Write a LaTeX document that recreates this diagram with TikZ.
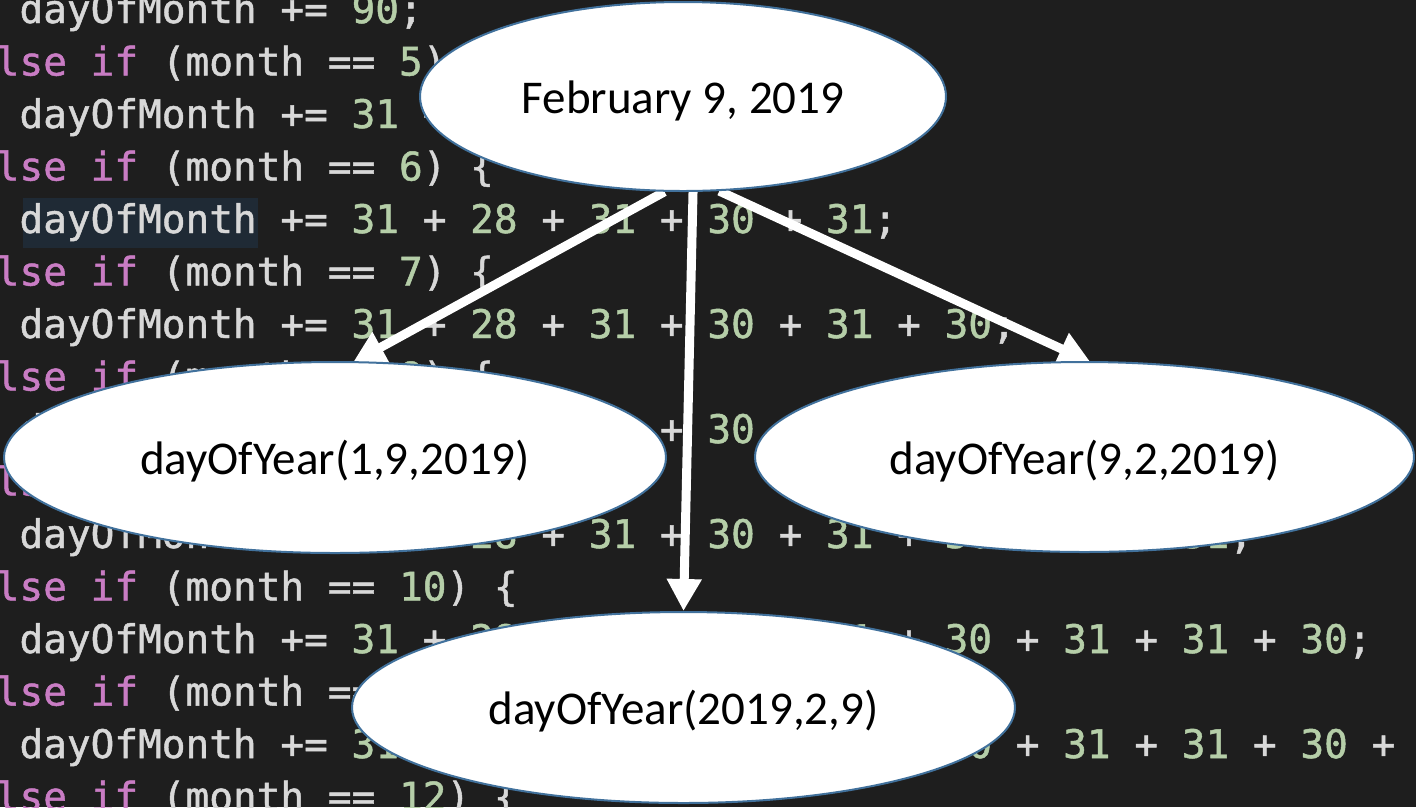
\documentclass[tikz,border=0pt]{standalone}
\usepackage{fontspec}
\newfontfamily\codefont{DejaVu Sans Mono}[FakeBold=1.2]
\newfontfamily\calib{Carlito}
\usetikzlibrary{arrows.meta,shapes.geometric}
\definecolor{bgc}{HTML}{1E1E1E}
\definecolor{codefg}{HTML}{D8D8D8}
\definecolor{kwc}{HTML}{C97CC4}
\definecolor{numc}{HTML}{B5CEA8}
\definecolor{hlc}{HTML}{1F2A35}
\definecolor{edgec}{HTML}{41719C}
\newcommand{\K}[1]{\textcolor{kwc}{#1}}
\newcommand{\N}[1]{\textcolor{numc}{#1}}
\newcommand{\lowered}[1]{\raisebox{-4pt}[\height][\depth]{#1}}
\pgfdeclarelayer{codebg}
\pgfdeclarelayer{arrowlayer}
\pgfsetlayers{codebg,arrowlayer,main}
\tikzset{
  codeline/.style={anchor=base west, inner sep=0pt, outer sep=0pt, text=codefg,
    font=\codefont\fontsize{39.4}{47}\selectfont},
  bubble/.style={ellipse, draw=edgec, line width=2pt, fill=white, inner sep=0pt,
    text=black, font=\calib\fontsize{47}{56}\selectfont},
  flow/.style={draw=white, line width=9pt, -{Triangle[length=32pt,width=33pt]}},
}
\begin{document}
\begin{tikzpicture}[x=1pt,y=-1pt]
\useasboundingbox (0,0) rectangle (1416,807);
\begin{pgfonlayer}{codebg}
\fill[bgc] (0,0) rectangle (1416,807);
\fill[hlc] (22.5,198) rectangle (258,248);
\node[codeline] (c0) at (19.5,23) {dayOfMonth += \N{90};};
\node[codeline] (c1) at (-4.2,75.5) {\K{lse if} (month == \N{5}) \{};
\node[codeline] (c2) at (19.5,128) {dayOfMonth += \N{31} + \N{28} + \N{31} + \N{30};};
\node[codeline] (c3) at (-4.2,180.5) {\K{lse if} (month == \N{6}) \{};
\node[codeline] (c4) at (19.5,233) {dayOfMonth += \N{31} + \N{28} + \N{31} + \N{30} + \N{31};};
\node[codeline] (c5) at (-4.2,285.5) {\K{lse if} (month == \N{7}) \{};
\node[codeline] (c6) at (19.5,338) {dayOfMonth += \N{31} + \N{28} + \N{31} + \N{30} + \N{31} + \N{30};};
\node[codeline] (c7) at (-4.2,390.5) {\K{lse if} (month == \N{8}) \{};
\node[codeline] (c8) at (19.5,443) {dayOfMonth += \N{31} + \N{28} + \N{31} + \N{30} + \N{31} + \N{30} + \N{31};};
\node[codeline] (c9) at (-4.2,495.5) {\K{lse if} (month == \N{9}) \{};
\node[codeline] (c10) at (19.5,548) {dayOfMonth += \N{31} + \N{28} + \N{31} + \N{30} + \N{31} + \N{30} + \N{31} + \N{31};};
\node[codeline] (c11) at (-4.2,600.5) {\K{lse if} (month == \N{10}) \{};
\node[codeline] (c12) at (19.5,653) {dayOfMonth += \N{31} + \N{28} + \N{31} + \N{30} + \N{31} + \N{30} + \N{31} + \N{31} + \N{30};};
\node[codeline] (c13) at (-4.2,705.5) {\K{lse if} (month == \N{11}) \{};
\node[codeline] (c14) at (19.5,758) {dayOfMonth += \N{31} + \N{28} + \N{31} + \N{30} + \N{31} + \N{30} + \N{31} + \N{31} + \N{30} + \N{31};};
\node[codeline] (c15) at (-4.2,810.5) {\K{lse if} (month == \N{12}) \{};
\end{pgfonlayer}
\node[bubble, minimum width=526pt, minimum height=189pt] (e1) at (683,96.5) {\lowered{February 9, 2019}};
\node[bubble, minimum width=662pt, minimum height=191pt] (e2) at (335,457.5) {\lowered{dayOfYear(1,9,2019)}};
\node[bubble, minimum width=659pt, minimum height=190pt] (e3) at (1084.5,457) {\lowered{dayOfYear(9,2,2019)}};
\node[bubble, minimum width=663pt, minimum height=191pt] (e4) at (683.5,707.5) {\lowered{dayOfYear(2019,2,9)}};
\begin{pgfonlayer}{arrowlayer}
\draw[flow, shorten >=-3pt] (e1.259) -- (e2.78);
\draw[flow] (e1.276) -- (e4.north);
\draw[flow, shorten >=-3pt] (e1.291.6) -- (e3.88);
\end{pgfonlayer}
\end{tikzpicture}
\end{document}
